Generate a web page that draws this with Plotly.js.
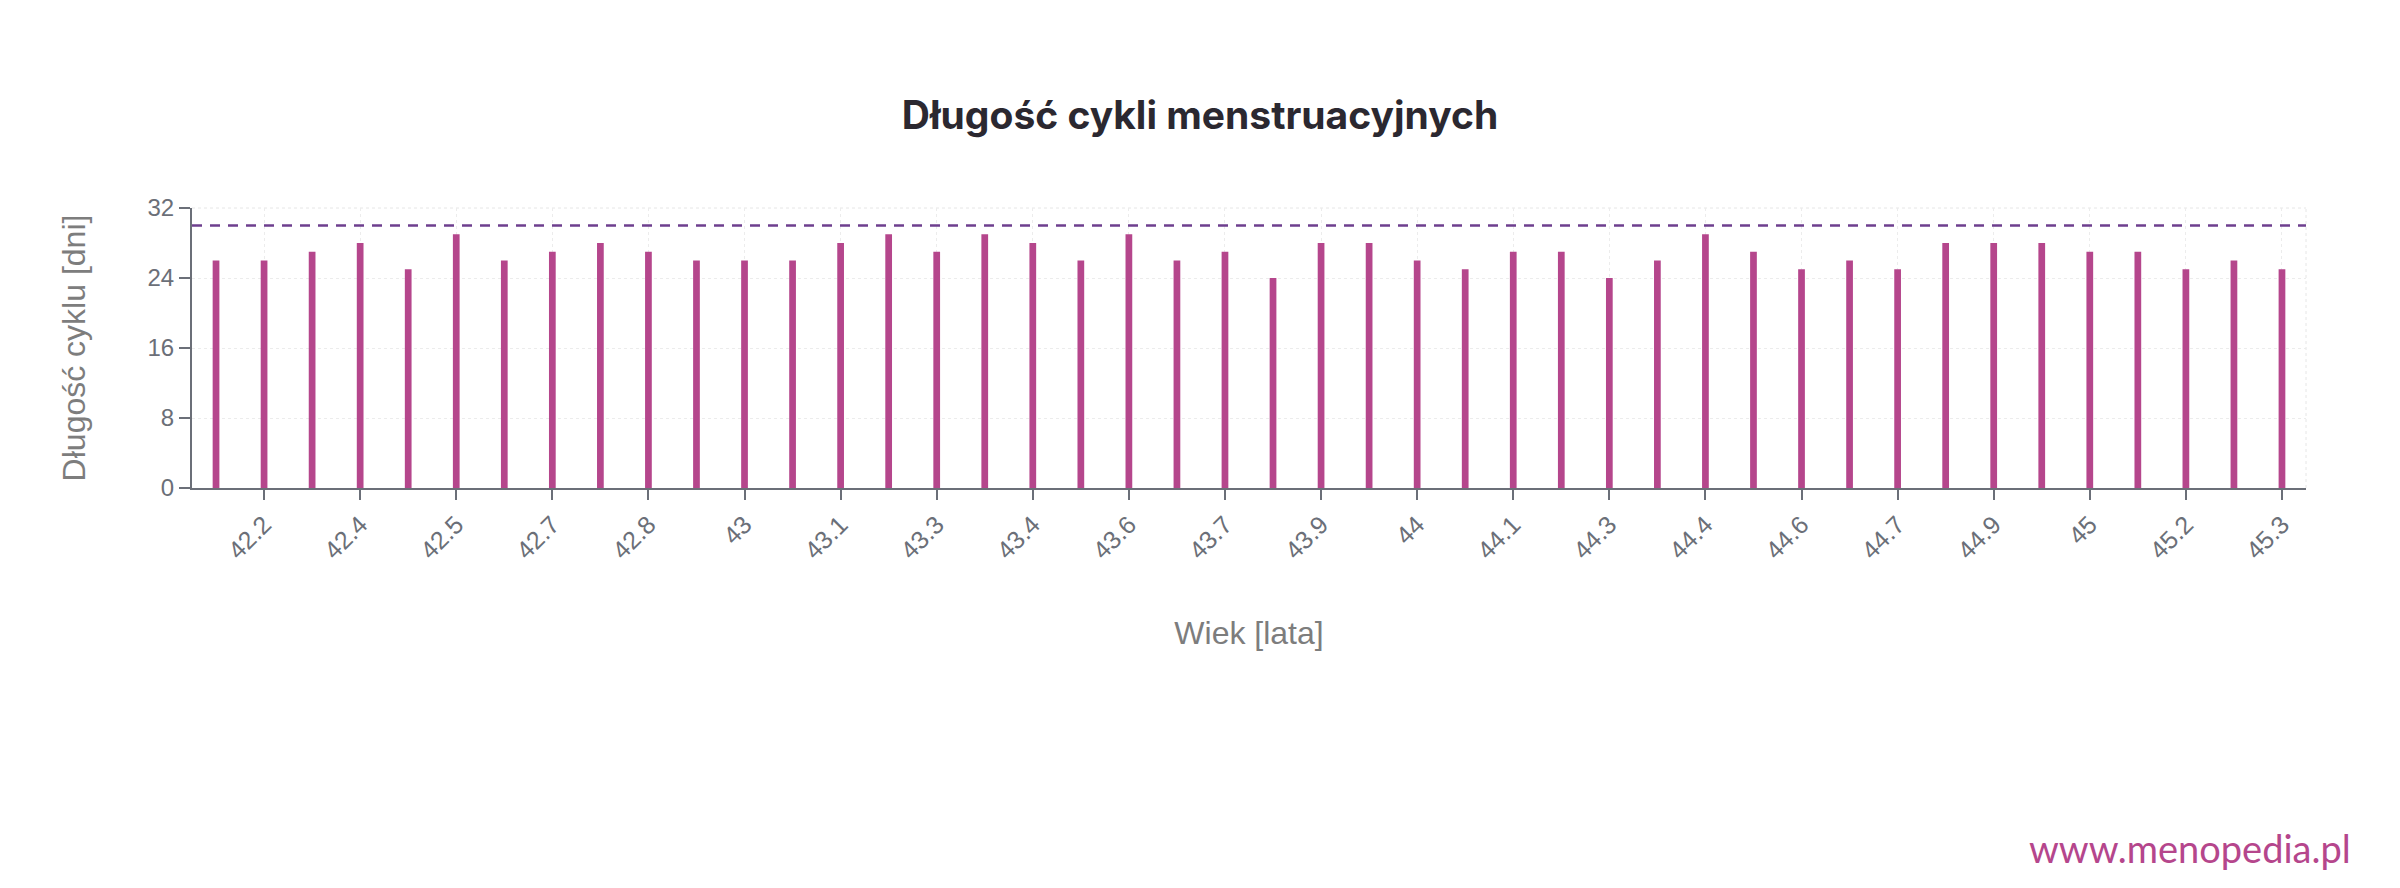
<!DOCTYPE html>
<html>
<head>
<meta charset="utf-8">
<script src="https://cdn.plot.ly/plotly-3.0.1.min.js"></script>
<style>
  html, body { margin: 0; padding: 0; background: #fff; }
  #chart { width: 2400px; height: 888px; }
</style>
</head>
<body>
<div id="chart"></div>
<script>
// age at each cycle (years) and cycle length (days)
const ages = [42.16, 42.23, 42.30, 42.37, 42.45, 42.52, 42.60, 42.67, 42.74, 42.82, 42.89,
  42.96, 43.03, 43.11, 43.18, 43.26, 43.34, 43.42, 43.49, 43.56, 43.64, 43.71, 43.79,
  43.85, 43.93, 44.01, 44.08, 44.15, 44.22, 44.29, 44.36, 44.43, 44.51, 44.58, 44.65,
  44.72, 44.79, 44.87, 44.95, 45.02, 45.10, 45.17, 45.24, 45.31];
const cycleDays = [26, 26, 27, 28, 25, 29, 26, 27, 28, 27, 26, 26, 26, 28, 29, 27, 29, 28,
  26, 29, 26, 27, 24, 28, 28, 26, 25, 27, 27, 24, 26, 29, 27, 25, 26, 25, 28, 28, 28, 27,
  27, 25, 26, 25];
// labels shown on the axis (every second cycle)
const tickAges = [42.23, 42.37, 42.52, 42.67, 42.82, 42.96, 43.11, 43.26, 43.42, 43.56,
  43.71, 43.85, 44.01, 44.15, 44.29, 44.43, 44.58, 44.72, 44.87, 45.02, 45.17, 45.31];
const tickLabels = ['42.2', '42.4', '42.5', '42.7', '42.8', '43', '43.1', '43.3', '43.4',
  '43.6', '43.7', '43.9', '44', '44.1', '44.3', '44.4', '44.6', '44.7', '44.9', '45',
  '45.2', '45.3'];
const normLimit = 30;
const yTicks = [0, 8, 16, 24, 32];

const barColor = '#b5468c';
const axisColor = '#6b6f78';

const trace = {
  type: 'bar',
  x: ages.map(a => a.toFixed(2)),
  y: cycleDays,
  width: 0.14,
  marker: { color: barColor },
  hoverinfo: 'x+y'
};

const layout = {
  width: 2400,
  height: 888,
  paper_bgcolor: '#fff',
  plot_bgcolor: '#fff',
  showlegend: false,
  margin: { l: 192, r: 94, t: 208, b: 400 },
  title: {
    text: '<b>Długość cykli menstruacyjnych</b>',
    font: { family: 'Inter, Lato, sans-serif', size: 39, color: '#2b2830' },
    x: 0.5, xanchor: 'center',
    y: 0.87, yanchor: 'middle'
  },
  xaxis: {
    type: 'category',
    range: [-0.5, ages.length - 0.5],
    tickmode: 'array',
    tickvals: tickAges.map(a => a.toFixed(2)),
    ticktext: tickLabels,
    tickangle: -45,
    tickfont: { family: 'Liberation Sans, Arial, sans-serif', size: 25, color: axisColor },
    ticks: 'outside', ticklen: 10, tickwidth: 2, tickcolor: axisColor,
    showline: true, linecolor: axisColor, linewidth: 2,
    showgrid: true, gridcolor: '#ececec', griddash: 'dot', gridwidth: 1,
    zeroline: false,
    title: {
      text: 'Wiek [lata]',
      font: { family: 'Liberation Sans, Arial, sans-serif', size: 32, color: '#7d7d7d' },
      standoff: 58
    }
  },
  yaxis: {
    range: [0, 32],
    tickmode: 'array',
    tickvals: yTicks,
    tickfont: { family: 'Liberation Sans, Arial, sans-serif', size: 24, color: axisColor },
    ticks: 'outside', ticklen: 11, tickwidth: 2, tickcolor: axisColor,
    showline: true, linecolor: axisColor, linewidth: 2,
    showgrid: true, gridcolor: '#ececec', griddash: 'dot', gridwidth: 1,
    zeroline: false,
    title: {
      text: 'Długość cyklu [dni]',
      font: { family: 'Liberation Sans, Arial, sans-serif', size: 32, color: '#7d7d7d' },
      standoff: 52
    }
  },
  shapes: [
    // dotted frame on the top and right
    { type: 'line', xref: 'paper', yref: 'paper', x0: 0, x1: 1, y0: 1, y1: 1,
      line: { color: '#e6e6e6', width: 1, dash: 'dot' }, layer: 'below' },
    { type: 'line', xref: 'paper', yref: 'paper', x0: 1, x1: 1, y0: 0, y1: 1,
      line: { color: '#e6e6e6', width: 1, dash: 'dot' }, layer: 'below' },
    // upper normal cycle length
    { type: 'line', xref: 'paper', yref: 'y', x0: 0, x1: 1, y0: normLimit, y1: normLimit,
      line: { color: '#6e3f8e', width: 2.5, dash: '10px,8px' } }
  ],
  annotations: [
    { text: 'www.menopedia.pl', xref: 'paper', yref: 'paper', x: 1.022, y: -1.285,
      xanchor: 'right', yanchor: 'middle', showarrow: false,
      font: { family: 'Lato, Inter, sans-serif', size: 38, color: '#b5468c' } }
  ]
};

Plotly.newPlot('chart', [trace], layout, { displayModeBar: false, staticPlot: true });
</script>
</body>
</html>
